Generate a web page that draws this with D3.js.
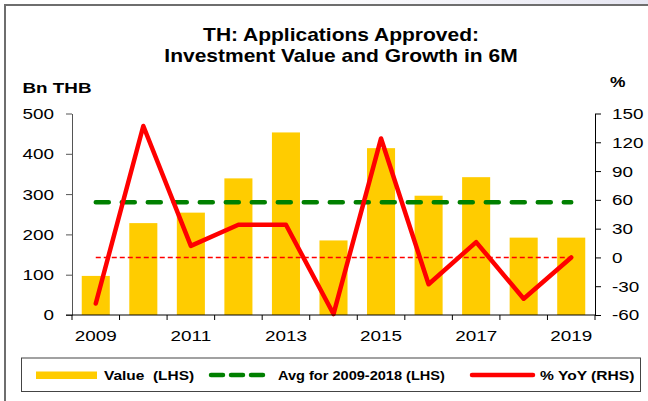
<!DOCTYPE html>
<html>
<head>
<meta charset="utf-8">
<script src="https://cdn.jsdelivr.net/npm/d3@7"></script>
<style>
  html, body { margin: 0; padding: 0; background: #fff; }
  svg { display: block; font-family: Arial, "Liberation Sans", sans-serif; }
</style>
</head>
<body>
<svg id="chart" width="648" height="401"></svg>
<script>
'use strict';

// chart data
var years = ['2009','2010','2011','2012','2013','2014','2015','2016','2017','2018','2019'];
var values = [97, 228, 254, 339, 453, 185, 414, 296, 342, 192, 192];   // Bn THB (LHS)
var yoy = [-48, 137, 12, 34, 34, -59, 124, -28, 16, -43, 0];          // % YoY (RHS)
var avgValue = 280;                                                     // avg 2009-2018
var leftTicks = [0, 100, 200, 300, 400, 500];
var rightTicks = [-60, -30, 0, 30, 60, 90, 120, 150];
var yearLabels = ['2009','2011','2013','2015','2017','2019'];
var titleLines = ['TH: Applications Approved:', 'Investment Value and Growth in 6M'];

var svg = d3.select('#chart');
var SX = 1.22; // the source text is stretched sideways

function label(g, txt, x, y, size, weight, anchor, sx) {
  return g.append('text')
    .attr('transform', 'translate(' + x + ',' + y + ') scale(' + (sx || SX) + ',1)')
    .attr('font-size', size)
    .attr('font-weight', weight || 'normal')
    .attr('text-anchor', anchor || 'start')
    .attr('fill', '#000')
    .style('white-space', 'pre')
    .text(txt);
}

// faint strip and frame
var grad = svg.append('defs').append('linearGradient').attr('id', 'topfade');
grad.append('stop').attr('offset', '0.45').attr('stop-color', '#ffffff');
grad.append('stop').attr('offset', '1').attr('stop-color', '#e6e6f2');
svg.append('rect').attr('x', 0).attr('y', 0).attr('width', 648).attr('height', 5).attr('fill', 'url(#topfade)');
svg.append('path').attr('d', 'M5,401 V5 H648').attr('fill', 'none').attr('stroke', '#6e6e6e').attr('stroke-width', 2);

// titles
label(svg, titleLines[0], 341, 40.5, 17.5, 'bold', 'middle', 1.2);
label(svg, titleLines[1], 341, 61.5, 17.5, 'bold', 'middle', 1.2);
label(svg, 'Bn THB', 22.5, 92.5, 14.5, 'bold', 'start', 1.3);
label(svg, '%', 610, 86.5, 14.5, 'bold', 'start', 1.2);

// scales
var x = d3.scaleBand().domain(years).range([72, 595]).padding(0);
var yL = d3.scaleLinear().domain([0, 500]).range([315, 113.5]);
var yR = d3.scaleLinear().domain([-60, 150]).range([315, 113.5]);
var barW = x.bandwidth() * 0.59;
var cx = function (d) { return x(d) + x.bandwidth() / 2; };

// bars
svg.append('g').selectAll('rect')
  .data(values).enter()
  .append('rect')
  .attr('x', function (d, i) { return cx(years[i]) - barW / 2; })
  .attr('y', function (d) { return yL(d); })
  .attr('width', barW)
  .attr('height', function (d) { return yL(0) - yL(d); })
  .attr('fill', '#FFCC00');

// average line (LHS)
svg.append('line')
  .attr('x1', cx(years[0])).attr('x2', cx(years[years.length - 1]))
  .attr('y1', yL(avgValue)).attr('y2', yL(avgValue))
  .attr('stroke', '#008000').attr('stroke-width', 4.5)
  .attr('stroke-linecap', 'round').attr('stroke-dasharray', '13,13');

// zero growth reference (RHS)
svg.append('line')
  .attr('x1', cx(years[0])).attr('x2', cx(years[years.length - 1]))
  .attr('y1', yR(0)).attr('y2', yR(0))
  .attr('stroke', '#FF0000').attr('stroke-width', 1.5)
  .attr('stroke-dasharray', '5,3');

// % YoY line
var line = d3.line()
  .x(function (d, i) { return cx(years[i]); })
  .y(function (d) { return yR(d); });
svg.append('path')
  .datum(yoy)
  .attr('d', line)
  .attr('fill', 'none')
  .attr('stroke', '#FF0000')
  .attr('stroke-width', 4.5)
  .attr('stroke-linejoin', 'round')
  .attr('stroke-linecap', 'round');

// axes
function stretchTicks(g) {
  g.selectAll('.tick text').each(function () {
    var t = d3.select(this);
    var tx = +t.attr('x') || 0, ty = +t.attr('y') || 0;
    t.attr('x', null).attr('y', null)
      .attr('transform', 'translate(' + tx + ',' + ty + ') scale(' + SX + ',1)')
      .attr('fill', '#000');
  });
  g.attr('font-size', 15.5).attr('font-family', null);
}

var axL = svg.append('g').attr('transform', 'translate(72,0)')
  .call(d3.axisLeft(yL).tickValues(leftTicks).tickSize(6).tickSizeOuter(0).tickPadding(12)
    .tickFormat(function (d) { return String(d); }));
axL.selectAll('path,line').attr('stroke', '#555');
stretchTicks(axL);

var axR = svg.append('g').attr('transform', 'translate(595,0)')
  .call(d3.axisRight(yR).tickValues(rightTicks).tickSize(6).tickSizeOuter(0).tickPadding(11)
    .tickFormat(function (d) { return String(d); }));
axR.selectAll('path,line').attr('stroke', '#000');
stretchTicks(axR);

// bottom axis: ticks on category borders, labels every other year
var axB = svg.append('g');
axB.append('line').attr('x1', 66).attr('x2', 595).attr('y1', 315).attr('y2', 315)
  .attr('stroke', '#000').attr('stroke-width', 1);
axB.selectAll('line.tk')
  .data(years.concat(['end'])).enter()
  .append('line').attr('class', 'tk')
  .attr('x1', function (d, i) { return i < years.length ? x(d) : x.range()[1]; })
  .attr('x2', function (d, i) { return i < years.length ? x(d) : x.range()[1]; })
  .attr('y1', 315).attr('y2', 320)
  .attr('stroke', '#000');
yearLabels.forEach(function (yr) {
  label(axB, yr, cx(yr), 340.5, 15.5, 'normal', 'middle');
});

// legend
var lg = svg.append('g');
lg.append('rect').attr('x', 21.5).attr('y', 358).attr('width', 619).attr('height', 33.5)
  .attr('fill', '#fff').attr('stroke', '#444').attr('stroke-width', 1);
lg.append('rect').attr('x', 36).attr('y', 371.5).attr('width', 61).attr('height', 7.5).attr('fill', '#FFCC00');
label(lg, 'Value  (LHS)', 104, 380, 13, 'bold', 'start', 1.19);
lg.append('line').attr('x1', 211).attr('x2', 271).attr('y1', 375).attr('y2', 375)
  .attr('stroke', '#008000').attr('stroke-width', 4.5)
  .attr('stroke-linecap', 'round').attr('stroke-dasharray', '12,8');
label(lg, 'Avg for 2009-2018 (LHS)', 278, 380, 13, 'bold', 'start', 1.12);
lg.append('line').attr('x1', 472).attr('x2', 533).attr('y1', 375).attr('y2', 375)
  .attr('stroke', '#FF0000').attr('stroke-width', 4.5).attr('stroke-linecap', 'round');
label(lg, '% YoY (RHS)', 540, 380, 13, 'bold', 'start', 1.2);
</script>
</body>
</html>
